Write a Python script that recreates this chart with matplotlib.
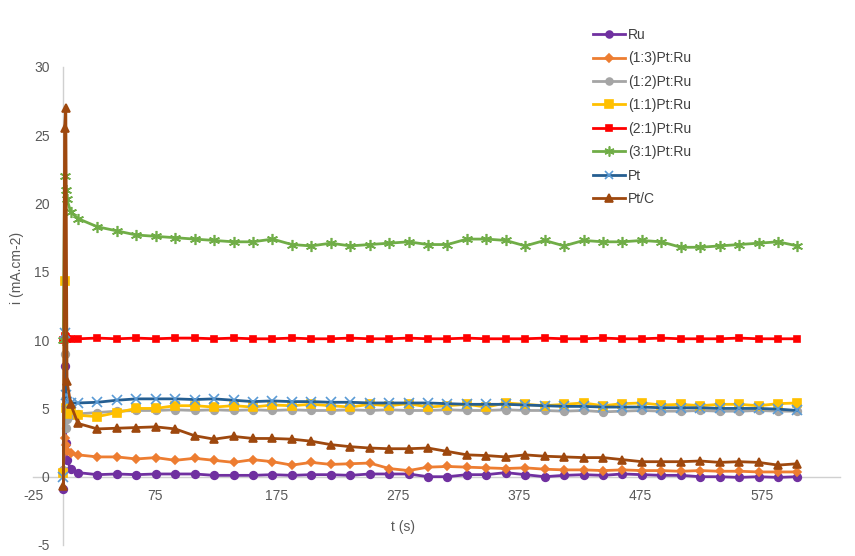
import matplotlib
matplotlib.use('Agg')
import matplotlib.pyplot as plt

plt.rcParams['font.family'] = ['Liberation Sans Narrow', 'Liberation Sans', 'DejaVu Sans']
plt.rcParams['axes.unicode_minus'] = False

# time (s): a few points in the initial spike, then ~16 s steps
t = [0, 1, 2, 3, 6,
     12, 28, 44, 60, 76, 92, 108, 124, 140, 156, 172, 188, 204, 220, 236, 252,
     268, 284, 300, 316, 332, 348, 364, 380, 396, 412, 428, 444, 460, 476, 492,
     508, 524, 540, 556, 572, 588, 604]

ru = [-0.9, 8.1, 2.5, 1.2, 0.6,
      0.3, 0.15, 0.2, 0.15, 0.2, 0.2, 0.2, 0.1, 0.1, 0.1, 0.15, 0.1, 0.15, 0.15, 0.1, 0.2,
      0.2, 0.2, 0.0, 0.0, 0.15, 0.15, 0.3, 0.15, 0.0, 0.1, 0.15, 0.1, 0.2, 0.15, 0.1,
      0.1, 0.0, 0.0, -0.05, 0.0, -0.05, 0.0]

pr13 = [0.5, 2.8, 2.3, 1.9, 1.7,
        1.6, 1.45, 1.45, 1.3, 1.4, 1.2, 1.35, 1.2, 1.05, 1.25, 1.1, 0.85, 1.05, 0.9, 0.95, 1.0,
        0.6, 0.45, 0.7, 0.75, 0.7, 0.65, 0.6, 0.65, 0.55, 0.5, 0.5, 0.45, 0.5, 0.45, 0.45,
        0.4, 0.45, 0.4, 0.4, 0.35, 0.35, 0.35]

pr12 = [0.5, 9.0, 3.6, 4.2, 4.5,
        4.6, 4.7, 4.8, 4.85, 4.85, 4.9, 4.85, 4.9, 4.85, 4.9, 4.85, 4.9, 4.85, 4.85, 4.9, 4.85,
        4.9, 4.85, 4.85, 4.9, 4.85, 4.85, 4.9, 4.85, 4.85, 4.8, 4.85, 4.75, 4.8, 4.85, 4.8,
        4.8, 4.85, 4.8, 4.8, 4.85, 4.8, 4.8]

pr11 = [0.3, 14.3, 5.0, 4.6, 4.9,
        4.5, 4.4, 4.7, 5.0, 5.0, 5.2, 5.2, 5.1, 5.2, 5.1, 5.25, 5.2, 5.3, 5.2, 5.1, 5.3,
        5.2, 5.35, 5.1, 5.2, 5.3, 5.1, 5.4, 5.3, 5.2, 5.3, 5.4, 5.2, 5.35, 5.4, 5.25,
        5.3, 5.2, 5.3, 5.3, 5.2, 5.35, 5.4]

pr21 = [10.0, 10.3, 10.2, 10.1, 10.1,
        10.1, 10.15, 10.1, 10.15, 10.1, 10.15, 10.15, 10.1, 10.15, 10.1, 10.1, 10.15, 10.1, 10.1, 10.15, 10.1,
        10.1, 10.15, 10.1, 10.1, 10.15, 10.1, 10.1, 10.1, 10.15, 10.1, 10.1, 10.15, 10.1, 10.1, 10.15,
        10.1, 10.1, 10.1, 10.15, 10.1, 10.1, 10.1]

pr31 = [10.0, 22.0, 21.0, 20.3, 19.4,
        18.9, 18.3, 18.0, 17.7, 17.6, 17.5, 17.4, 17.3, 17.2, 17.2, 17.4, 17.0, 16.9, 17.1, 16.9, 17.0,
        17.1, 17.2, 17.0, 17.0, 17.4, 17.4, 17.3, 16.9, 17.3, 16.9, 17.3, 17.2, 17.2, 17.3, 17.2,
        16.8, 16.8, 16.9, 17.0, 17.1, 17.2, 16.9]

pt = [0.0, 10.5, 6.0, 5.5, 5.4,
      5.4, 5.45, 5.6, 5.7, 5.7, 5.7, 5.65, 5.7, 5.6, 5.5, 5.55, 5.5, 5.5, 5.45, 5.45, 5.4,
      5.4, 5.4, 5.4, 5.35, 5.3, 5.3, 5.3, 5.25, 5.2, 5.15, 5.15, 5.1, 5.1, 5.1, 5.05,
      5.05, 5.05, 5.0, 5.0, 5.0, 4.95, 4.85]

ptc = [-0.7, 25.5, 27.0, 7.0, 5.3,
       3.9, 3.5, 3.55, 3.6, 3.65, 3.5, 3.0, 2.75, 2.95, 2.8, 2.8, 2.75, 2.6, 2.35, 2.2, 2.1,
       2.05, 2.05, 2.1, 1.85, 1.6, 1.55, 1.45, 1.6, 1.5, 1.45, 1.4, 1.4, 1.25, 1.1, 1.1,
       1.1, 1.15, 1.05, 1.1, 1.05, 0.85, 0.95]

labels = ['Ru', '(1:3)Pt:Ru', '(1:2)Pt:Ru', '(1:1)Pt:Ru', '(2:1)Pt:Ru', '(3:1)Pt:Ru', 'Pt', 'Pt/C']
series = [ru, pr13, pr12, pr11, pr21, pr31, pt, ptc]
colors = ['#7030A0', '#ED7D31', '#A5A5A5', '#FFC000', '#FF0000', '#70AD47', '#255E91', '#9E480E']
markers = ['o', 'D', 'o', 's', 's', (6, 2, 0), 'x', '^']
msizes = [5.5, 4.5, 5.5, 6, 4.5, 8, 7, 6]
mecolors = ['#7030A0', '#ED7D31', '#A5A5A5', '#FFC000', '#FF0000', '#70AD47', '#5B9BD5', '#9E480E']

fig = plt.figure(figsize=(8.55, 5.56), dpi=100)
ax = fig.add_axes([33 / 855, 11 / 556, (840 - 33) / 855, (545 - 67) / 556])

for y, lab, c, m, ms, mec in zip(series, labels, colors, markers, msizes, mecolors):
    ax.plot(t, y, color=c, lw=2, marker=m, ms=ms, mfc=mec, mec=mec, mew=1.2,
            label=lab, zorder=3)

ax.set_xlim(-25, 639)
ax.set_ylim(-5, 30)
ax.set_xticks([-25, 75, 175, 275, 375, 475, 575])
ax.set_yticks([-5, 0, 5, 10, 15, 20, 25, 30])

for s in ['top', 'right']:
    ax.spines[s].set_visible(False)
ax.spines['left'].set_position(('data', 0))
ax.spines['bottom'].set_position(('data', 0))
for s in ['left', 'bottom']:
    ax.spines[s].set_color('#D0D0D0')
    ax.spines[s].set_linewidth(1)
    ax.spines[s].set_zorder(1)

ax.tick_params(axis='x', length=0, pad=9, labelsize=10, labelcolor='#595959')
ax.tick_params(axis='y', length=0, pad=10, labelsize=10, labelcolor='#595959')

fig.text(17 / 855, 1 - 268 / 556, 'i (mA.cm-2)', rotation=90, ha='center', va='center',
         fontsize=10, color='#595959')
fig.text(403 / 855, 1 - 527 / 556, 't (s)', ha='center', va='center',
         fontsize=10, color='#595959')

leg = ax.legend(loc='upper left', bbox_to_anchor=(586 / 855, 1 - 21 / 556),
                bbox_transform=fig.transFigure, frameon=False, fontsize=10,
                handlelength=2.3, handletextpad=0.2, labelspacing=0.68,
                borderpad=0, markerscale=0.9)
for txt in leg.get_texts():
    txt.set_color('#404040')

fig.savefig('out.png', dpi=100)
